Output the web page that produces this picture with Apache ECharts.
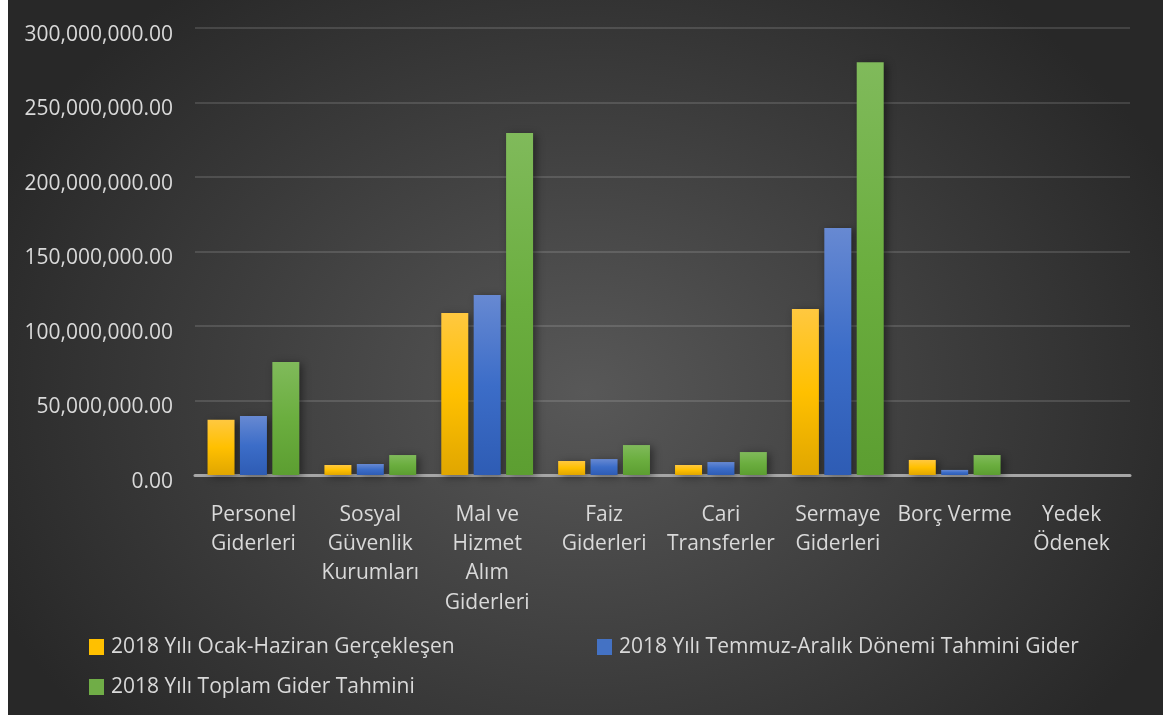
<!DOCTYPE html>
<html>
<head>
<meta charset="utf-8">
<script src="https://cdn.jsdelivr.net/npm/echarts@6/dist/echarts.min.js"></script>
<style>
  html, body { margin: 0; padding: 0; background: #ffffff; }
  #chart {
    position: absolute; left: 8px; top: 0; width: 1155px; height: 715px;
    background: radial-gradient(ellipse 56% 72% at 50% 55%, #585858 0%, #3b3b3b 60%, #282828 100%);
  }
</style>
</head>
<body>
<div id="chart"></div>
<script>
const categories = [
  'Personel\nGiderleri',
  'Sosyal\nGüvenlik\nKurumları',
  'Mal ve\nHizmet\nAlım\nGiderleri',
  'Faiz\nGiderleri',
  'Cari\nTransferler',
  'Sermaye\nGiderleri',
  'Borç Verme',
  'Yedek\nÖdenek'
];
const seriesNames = [
  '2018 Yılı Ocak-Haziran Gerçekleşen',
  '2018 Yılı Temmuz-Aralık Dönemi Tahmini Gider',
  '2018 Yılı Toplam Gider Tahmini'
];
const ocakHaziran   = [37000000, 6700000, 108700000, 9400000, 6700000, 111400000, 10100000, 0];
const temmuzAralik  = [39600000, 7400000, 120800000, 10700000, 8700000, 165800000, 3400000, 0];
const toplamTahmin  = [75800000, 13400000, 229500000, 20100000, 15400000, 277000000, 13400000, 0];
const yTicks = { min: 0, max: 300000000, interval: 50000000 };

const FONT = '"Open Sans", "Noto Sans", sans-serif';
const TXT = '#d9d9d9';
const FS = 21;

function grad(top, mid, bottom) {
  return {
    type: 'linear', x: 0, y: 0, x2: 0, y2: 1,
    colorStops: [
      { offset: 0, color: top },
      { offset: 0.5, color: mid },
      { offset: 1, color: bottom }
    ]
  };
}
const colors = [
  grad('#FFC840', '#FFC000', '#E0A600'),
  grad('#6789D2', '#3C6DC8', '#2E5CB4'),
  grad('#80BA5B', '#6BAE3F', '#5C9E31')
];
const legendColors = ['#FFC000', '#4472C4', '#70AD47'];
const dataSets = [ocakHaziran, temmuzAralik, toplamTahmin];

function fmt(v) {
  return v.toLocaleString('en-US', { minimumFractionDigits: 2, maximumFractionDigits: 2 });
}

const legendPos = [
  { left: 81, top: 636 },
  { left: 589, top: 636 },
  { left: 81, top: 676 }
];

const chart = echarts.init(document.getElementById('chart'), null, { renderer: 'canvas' });
chart.setOption({
  backgroundColor: 'transparent',
  animation: false,
  textStyle: { fontFamily: FONT },
  grid: { left: 187, right: 33, top: 28, bottom: 240, containLabel: false },
  legend: seriesNames.map((n, i) => ({
    data: [n],
    left: legendPos[i].left,
    top: legendPos[i].top,
    padding: 0,
    itemWidth: 15,
    itemHeight: 16,
    itemStyle: { color: legendColors[i] },
    icon: 'rect',
    textStyle: { color: TXT, fontSize: FS, fontFamily: FONT, lineHeight: 22, padding: [0, 0, 0, 2] }
  })),
  xAxis: {
    type: 'category',
    data: categories,
    axisLine: { show: true, lineStyle: { color: '#a6a6a6', width: 3 } },
    axisTick: { show: false },
    axisLabel: {
      color: TXT, fontSize: FS, fontFamily: FONT, lineHeight: 29.3,
      margin: 25, interval: 0
    },
    splitLine: { show: false }
  },
  yAxis: {
    type: 'value',
    min: yTicks.min, max: yTicks.max, interval: yTicks.interval,
    axisLine: { show: false },
    axisTick: { show: false },
    axisLabel: {
      color: TXT, fontSize: FS, fontFamily: FONT, margin: 22,
      verticalAlign: 'top', lineHeight: 14, formatter: fmt
    },
    splitLine: { lineStyle: { color: 'rgba(255,255,255,0.13)', width: 2 } }
  },
  series: dataSets.map((d, i) => ({
    name: seriesNames[i],
    type: 'bar',
    data: d,
    barWidth: 27,
    barGap: '20%',
    itemStyle: {
      color: colors[i],
      shadowColor: 'rgba(0,0,0,0.45)',
      shadowBlur: 8,
      shadowOffsetX: 3,
      shadowOffsetY: 2
    }
  }))
});
</script>
</body>
</html>
